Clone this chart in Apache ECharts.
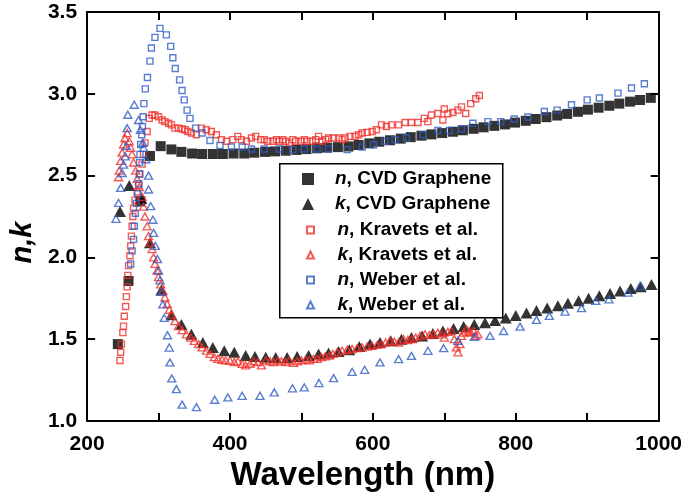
<!DOCTYPE html>
<html>
<head>
<meta charset="utf-8">
<script src="https://cdn.jsdelivr.net/npm/echarts@6/dist/echarts.min.js"></script>
<style>html,body{margin:0;padding:0;background:#fff}#c{width:685px;height:500px}</style>
</head>
<body>
<div id="c"></div>
<script>
// Tick labels
const xTicks = [200, 400, 600, 800, 1000];
const yTicks = [1.0, 1.5, 2.0, 2.5, 3.0, 3.5];
const seriesNames = ['n, CVD Graphene', 'k, CVD Graphene', 'n, Kravets et al.', 'k, Kravets et al.', 'n, Weber et al.', 'k, Weber et al.'];

// [wavelength (nm), value]
const nCVD = [[243,1.47],[258,1.856],[274.5,2.343],[288,2.62],[303,2.68],[318,2.66],[332,2.645],[347,2.635],[361,2.632],[376,2.632],[390,2.632],[405,2.635],[420,2.635],[434,2.64],[449,2.645],[463,2.648],[478,2.652],[493,2.657],[507,2.662],[522,2.667],[536,2.671],[551,2.674],[566,2.678],[580,2.687],[595,2.697],[609,2.707],[624,2.716],[639,2.726],[653,2.735],[668,2.744],[682,2.752],[697,2.76],[712,2.768],[726,2.777],[741,2.786],[755,2.795],[770,2.804],[785,2.813],[799,2.824],[814,2.835],[828,2.846],[843,2.857],[858,2.867],[872,2.877],[887,2.89],[901,2.903],[916,2.915],[931,2.927],[945,2.94],[960,2.952],[974,2.962],[989,2.975]];

const kCVD = [[246,2.28],[259,2.44],[276,2.36],[288,2.09],[304,1.80],[318,1.65],[332,1.59],[346,1.53],[362,1.48],[376,1.449],[392,1.43],[406,1.42],[422,1.40],[435,1.395],[450,1.39],[464,1.388],[480,1.388],[494,1.395],[510,1.40],[524,1.41],[538,1.415],[552,1.425],[567,1.435],[581,1.455],[596,1.47],[610,1.48],[625,1.49],[640,1.50],[654,1.51],[669,1.52],[684,1.535],[698,1.55],[713,1.565],[727,1.578],[742,1.59],[757,1.60],[771,1.615],[786,1.63],[800,1.645],[815,1.66],[829,1.675],[844,1.69],[859,1.705],[873,1.72],[888,1.735],[902,1.75],[917,1.765],[932,1.78],[946,1.795],[961,1.81],[975,1.82],[990,1.835]];

const nKravets = [[246,1.37],[247,1.42],[248,1.47],[250,1.54],[251,1.58],[252,1.64],[254,1.70],[255,1.76],[256,1.82],[257,1.89],[258,1.95],[260,2.01],[261,2.07],[262,2.13],[263,2.19],[264,2.25],[265,2.30],[267,2.35],[270,2.40],[272,2.44],[274,2.51],[277,2.57],[279,2.63],[281,2.70],[284,2.77],[287,2.85],[291,2.87],[295,2.87],[300,2.86],[305,2.84],[309,2.83],[314,2.82],[318,2.81],[323,2.79],[328,2.79],[333,2.785],[337,2.78],[341,2.77],[346,2.76],[353,2.75],[360,2.79],[367,2.78],[374,2.77],[381,2.75],[388,2.72],[395,2.71],[404,2.72],[411,2.74],[416,2.72],[423,2.71],[430,2.73],[436,2.74],[443,2.72],[448,2.72],[453,2.71],[460,2.71],[465,2.72],[469,2.71],[474,2.72],[478,2.71],[483,2.70],[488,2.72],[492,2.71],[499,2.71],[504,2.72],[508,2.71],[515,2.71],[520,2.72],[524,2.74],[529,2.71],[534,2.72],[538,2.73],[545,2.73],[552,2.73],[557,2.72],[561,2.73],[568,2.74],[575,2.74],[580,2.75],[585,2.76],[592,2.764],[599,2.77],[605,2.78],[612,2.81],[619,2.80],[626,2.81],[636,2.81],[645,2.825],[654,2.825],[663,2.825],[672,2.85],[677,2.83],[682,2.87],[691,2.88],[698,2.84],[700,2.907],[705,2.878],[712,2.886],[719,2.90],[724,2.92],[730,2.88],[737,2.94],[744,2.97],[749,2.99]];

const kKravets = [[244,2.49],[245,2.53],[247,2.59],[249,2.64],[251,2.69],[253,2.73],[256,2.76],[259,2.71],[261,2.67],[263,2.63],[265,2.58],[268,2.53],[270,2.48],[273,2.43],[277,2.37],[279,2.31],[281,2.25],[284,2.19],[286,2.13],[288,2.09],[291,2.05],[293,2.00],[295,1.96],[298,1.92],[300,1.88],[303,1.835],[306,1.795],[309,1.755],[312,1.715],[315,1.68],[318,1.65],[323,1.61],[328,1.58],[333,1.555],[339,1.53],[345,1.51],[350,1.49],[356,1.47],[361,1.45],[367,1.43],[372,1.41],[378,1.39],[383,1.38],[389,1.374],[394,1.37],[400,1.368],[406,1.36],[411,1.365],[417,1.35],[422,1.34],[428,1.35],[433,1.365],[439,1.36],[444,1.34],[450,1.37],[456,1.365],[461,1.36],[467,1.37],[472,1.365],[478,1.36],[483,1.37],[489,1.355],[494,1.365],[500,1.37],[506,1.375],[511,1.37],[517,1.38],[522,1.38],[528,1.39],[533,1.395],[539,1.40],[544,1.41],[550,1.42],[557,1.43],[564,1.435],[571,1.44],[578,1.445],[585,1.45],[592,1.455],[599,1.46],[606,1.465],[612,1.47],[618,1.48],[624,1.49],[630,1.485],[636,1.48],[643,1.50],[649,1.495],[654,1.50],[660,1.51],[666,1.52],[673,1.53],[679,1.525],[685,1.53],[691,1.54],[696,1.53],[700,1.51],[705,1.545],[710,1.55],[714,1.50],[717,1.45],[719,1.42],[722,1.47],[724,1.52],[727,1.54],[731,1.56],[734,1.545],[737,1.54],[741,1.55],[744,1.52],[747,1.53]];

const nWeber = [[261,1.96],[263,2.04],[265,2.11],[266,2.19],[267.5,2.27],[269,2.33],[271,2.39],[272.5,2.45],[273,2.51],[273.5,2.58],[274,2.63],[275,2.69],[276.5,2.75],[277.5,2.80],[278.5,2.86],[279.5,2.94],[281.5,3.03],[284.5,3.10],[288,3.20],[290,3.28],[295,3.345],[302,3.40],[311,3.36],[317,3.29],[320,3.22],[323.5,3.155],[329.5,3.085],[333,3.02],[336,2.963],[340,2.90],[344,2.85],[352,2.79],[361,2.76],[372,2.715],[386,2.685],[402,2.675],[417,2.675],[430,2.663],[448,2.663],[469,2.663],[488,2.659],[504,2.663],[522,2.663],[538,2.663],[564,2.659],[585,2.675],[601,2.689],[617,2.71],[631,2.72],[647,2.73],[670,2.75],[691,2.776],[707,2.776],[724,2.785],[740,2.82],[761,2.83],[779,2.83],[798,2.846],[817,2.858],[840,2.892],[858,2.90],[878,2.933],[900,2.963],[917,2.974],[943,3.004],[962,3.035],[980,3.061]];

const kWeber = [[240.5,2.236],[244,2.333],[247,2.425],[249,2.516],[251,2.567],[253.5,2.618],[255,2.68],[256,2.79],[257,2.872],[266,2.933],[272,2.84],[274.5,2.78],[278,2.70],[279,2.67],[282,2.60],[286,2.50],[286,2.415],[289,2.313],[292,2.23],[293,2.15],[295.5,2.07],[298.5,1.99],[300,1.92],[302,1.86],[304,1.79],[306,1.713],[308,1.63],[312.5,1.524],[315,1.449],[316,1.358],[318.5,1.26],[325,1.195],[333,1.10],[353,1.085],[378.6,1.13],[397,1.144],[417,1.154],[442,1.154],[462,1.175],[487.5,1.20],[504,1.205],[524.5,1.232],[545,1.262],[571,1.30],[588.5,1.313],[610,1.358],[636,1.378],[654,1.398],[677,1.429],[699,1.445],[719,1.49],[742,1.514],[764,1.52],[783,1.55],[806,1.577],[829,1.618],[847,1.642],[869,1.669],[892,1.69],[912,1.734],[930.5,1.744],[957,1.785],[974,1.825]];

const FONT = '"Liberation Sans", Arial, sans-serif';
const RED = '#f0302a';
const BLUE = '#2f5cc4';

const chart = echarts.init(document.getElementById('c'), null, {renderer: 'canvas'});

function xAxisCfg(pos, showLabels, withName) {
  const a = {
    type: 'value', position: pos, min: xTicks[0], max: xTicks[xTicks.length - 1], interval: 100,
    axisLine: {show: true, onZero: false, lineStyle: {color: '#000', width: 2}},
    axisTick: {show: true, inside: true, length: 8, lineStyle: {color: '#000', width: 2}},
    axisLabel: {
      show: showLabels, margin: 13, color: '#000', fontSize: 21, fontWeight: 'bold', fontFamily: FONT,
      formatter: v => xTicks.indexOf(v) >= 0 ? String(v) : ''
    },
    splitLine: {show: false}
  };
  if (withName) {
    a.name = 'Wavelength (nm)';
    a.nameLocation = 'middle';
    a.nameGap = 32;
    a.nameTextStyle = {color: '#000', fontSize: 33, fontWeight: 'bold', fontFamily: FONT, padding: [0, 20, 0, 0]};
  }
  return a;
}
function yAxisCfg(pos, showLabels, withName) {
  const a = {
    type: 'value', position: pos, min: yTicks[0], max: yTicks[yTicks.length - 1], interval: 0.5,
    axisLine: {show: true, onZero: false, lineStyle: {color: '#000', width: 2}},
    axisTick: {show: true, inside: true, length: 8, lineStyle: {color: '#000', width: 2}},
    axisLabel: {
      show: showLabels, margin: 10, color: '#000', fontSize: 21, fontWeight: 'bold', fontFamily: FONT,
      formatter: v => v.toFixed(1)
    },
    splitLine: {show: false}
  };
  if (withName) {
    a.name = 'n,k';
    a.nameLocation = 'middle';
    a.nameGap = 47;
    a.nameRotate = 90;
    a.nameTextStyle = {color: '#000', fontSize: 29, fontWeight: 'bold', fontStyle: 'italic', fontFamily: FONT, padding: [0, 52, 0, 0]};
  }
  return a;
}

function sc(name, data, symbol, size, filled, color) {
  return {
    name: name, type: 'scatter', data: data, symbol: symbol, symbolSize: size,
    xAxisIndex: 0, yAxisIndex: 0,
    itemStyle: filled ? {color: color} : {color: 'none', borderColor: color, borderWidth: 1.4},
    emphasis: {disabled: true}, animation: false
  };
}

function legendText(pad) {
  return {
    color: '#000', fontSize: 19, fontWeight: 'bold', fontFamily: FONT, lineHeight: 20,
    rich: {
      i: {fontStyle: 'italic', fontWeight: 'bold', fontSize: 19, fontFamily: FONT, color: '#000', lineHeight: 20, padding: [0, 0, 0, pad]},
      t: {fontWeight: 'bold', fontSize: 19, fontFamily: FONT, color: '#000', lineHeight: 20}
    }
  };
}
const fmt = name => '{i|' + name.charAt(0) + '}{t|' + name.slice(1) + '}';

chart.setOption({
  animation: false,
  backgroundColor: '#fff',
  grid: {left: 83, top: 12, width: 576, height: 409, containLabel: false},
  xAxis: [xAxisCfg('bottom', true, true), xAxisCfg('top', false, false)],
  yAxis: [yAxisCfg('left', true, true), yAxisCfg('right', false, false)],
  graphic: [{
    type: 'rect', left: 279, top: 163, z: 3,
    shape: {width: 223, height: 154},
    style: {fill: '#fff', stroke: '#000', lineWidth: 1.5}
  }],
  legend: [
    {
      data: seriesNames.slice(0, 2), orient: 'vertical', left: 302, top: 169, padding: 0,
      itemWidth: 12, itemHeight: 12, itemGap: 5, selectedMode: false, z: 10,
      formatter: fmt, textStyle: legendText(16)
    },
    {
      data: seriesNames.slice(2), orient: 'vertical', left: 304.5, top: 220, padding: 0,
      itemWidth: 7, itemHeight: 7, itemGap: 5, selectedMode: false, z: 10,
      formatter: fmt, textStyle: legendText(18.5)
    }
  ],
  series: [
    sc(seriesNames[0], nCVD, 'rect', 10, true, '#000'),
    sc(seriesNames[1], kCVD, 'triangle', [12, 11], true, '#000'),
    sc(seriesNames[2], nKravets, 'rect', 6, false, RED),
    sc(seriesNames[3], kKravets, 'triangle', [8, 7], false, RED),
    sc(seriesNames[4], nWeber, 'rect', 6, false, BLUE),
    sc(seriesNames[5], kWeber, 'triangle', [8, 7], false, BLUE)
  ]
});
</script>
</body>
</html>
